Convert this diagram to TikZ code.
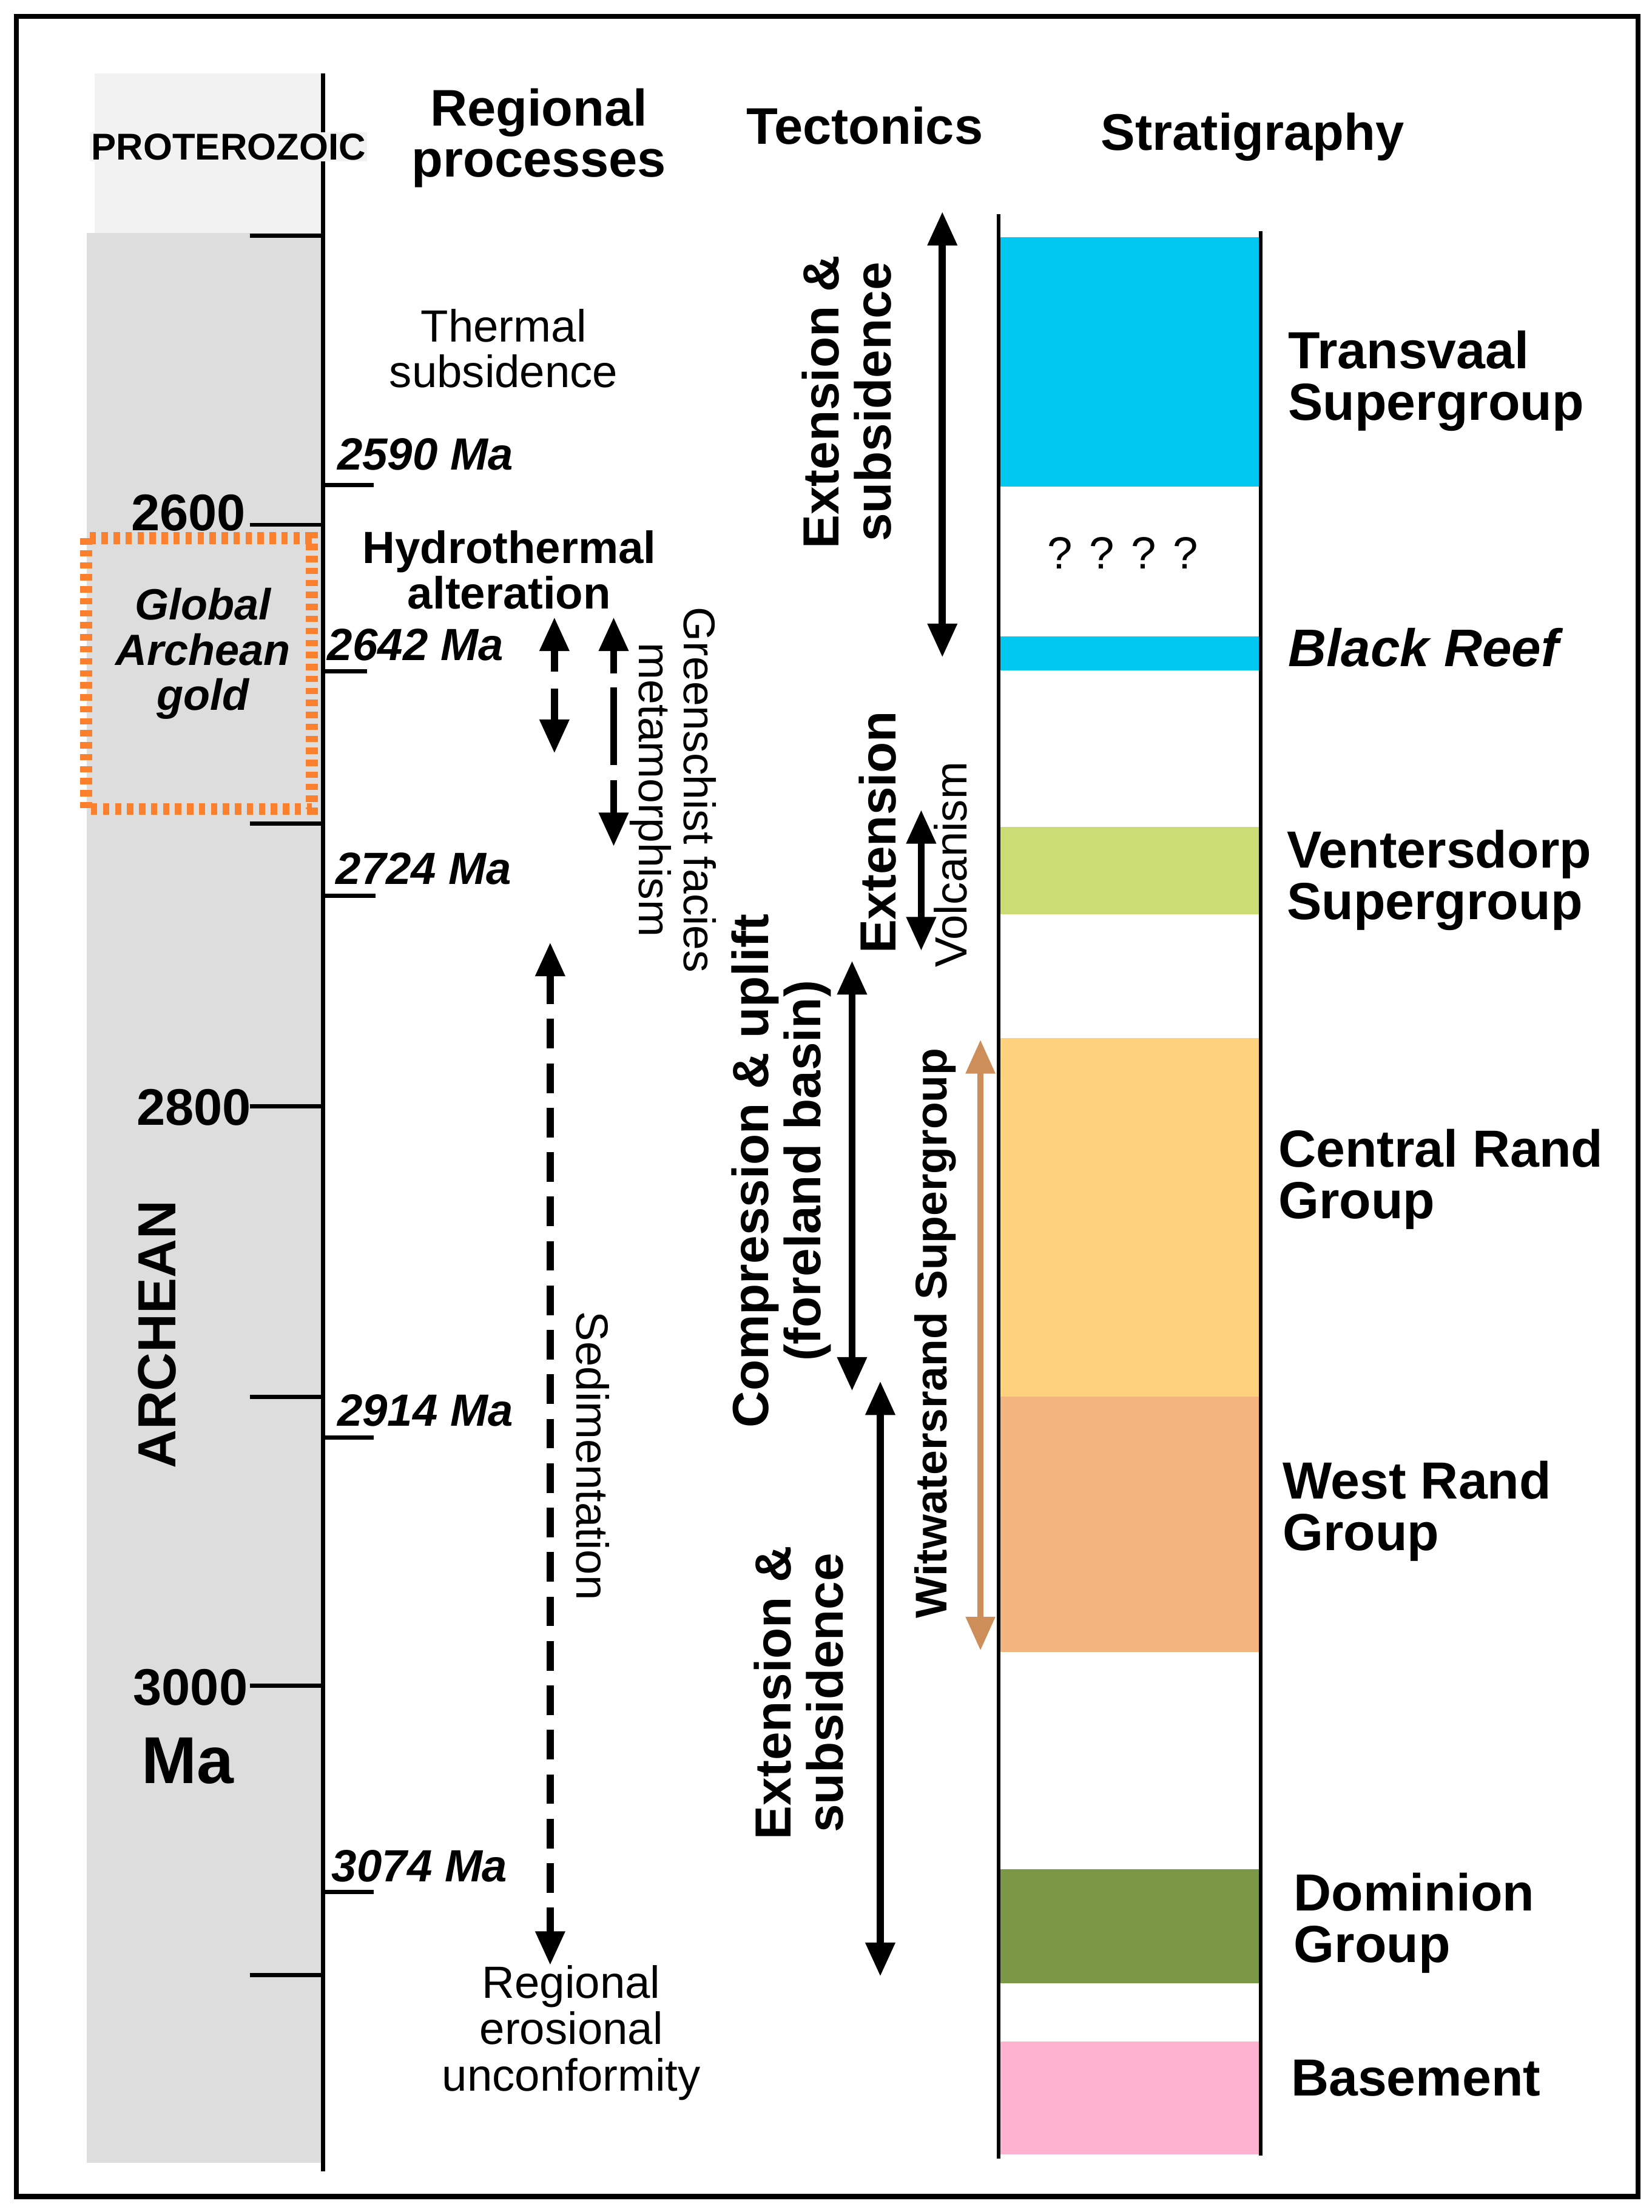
\documentclass[tikz,border=0pt]{standalone}
\usepackage{fontspec}
\setmainfont{Liberation Sans}
\usetikzlibrary{arrows.meta}
\definecolor{progray}{RGB}{242,242,242}
\definecolor{archgray}{RGB}{221,221,221}
\definecolor{goldorange}{RGB}{250,128,45}
\definecolor{transcyan}{RGB}{0,200,240}
\definecolor{ventgreen}{RGB}{204,220,116}
\definecolor{centralyel}{RGB}{254,210,124}
\definecolor{westorange}{RGB}{243,181,125}
\definecolor{domgreen}{RGB}{122,152,70}
\definecolor{basepink}{RGB}{255,178,208}
\definecolor{witstan}{RGB}{205,142,90}
\newcommand{\fsz}[2]{\fontsize{#1}{#2}\selectfont}
\tikzstyle{hdr}=[font=\fsz{36.5}{36}\bfseries, align=center, inner sep=0pt]
\tikzstyle{proc}=[font=\fsz{32}{32}, align=center, inner sep=0pt]
\tikzstyle{procb}=[font=\fsz{32}{32}\bfseries, align=center, inner sep=0pt]
\tikzstyle{agelbl}=[font=\fsz{32}{32}\bfseries\itshape, anchor=west, inner sep=0pt]
\tikzstyle{eralbl}=[font=\fsz{36.5}{36}\bfseries, inner sep=0pt]
\tikzstyle{unitlbl}=[font=\fsz{37}{36.5}\bfseries, align=left, anchor=west, inner sep=0pt]
\tikzstyle{tecto}=[font=\fsz{36}{37}\bfseries, align=center, rotate=90, inner sep=0pt]
\tikzstyle{spanarrow}=[line width=5pt, {Triangle[width=20pt,length=24pt]}-{Triangle[width=20pt,length=24pt]}]
\tikzstyle{tickmark}=[line width=3pt]

\begin{document}
\begin{tikzpicture}[x=1pt, y=-1pt]
  \useasboundingbox (0,0) rectangle (1171,1568);
  \fill[progray] (67,52) rectangle (228,165);
  \fill[archgray] (61.5,165) rectangle (228,1533);
  \draw[goldorange, line width=8.5pt, dash pattern=on 4.5pt off 4pt] (61,381.5) rectangle (221,573.5);
  \draw[line width=2.8pt] (229,52) -- (229,1539);
  \foreach \ty in {167,372,584,784,990,1195,1400}
    \draw[tickmark] (177,\ty) -- (229,\ty);
  \foreach \ty/\tx in {344/265,476/260,635/266,1019/265,1341/265}
    \draw[tickmark] (229,\ty) -- (\tx,\ty);

  \node[eralbl, fill=progray, inner sep=1pt, font=\fsz{26.5}{27}\bfseries] (protero) at (162,104) {PROTEROZOIC};
  \node[eralbl] (a2600) at (133.5,363.5) {2600};
  \node[eralbl] (a2800) at (137.5,785) {2800};
  \node[eralbl] (a3000) at (135,1196) {3000};
  \node[eralbl, font=\fsz{47}{47}\bfseries] (ma) at (133,1248) {Ma};
  \node[eralbl, font=\fsz{38}{38}\bfseries, rotate=90] (archean) at (111.5,946) {ARCHEAN};
  \node[font=\fsz{31}{32}\bfseries\itshape, align=center, inner sep=0pt] (gold) at (144,463.5) {Global\\Archean\\gold};

  \node[agelbl] (m2590) at (239,322) {2590 Ma};
  \node[agelbl] (m2642) at (232,457) {2642 Ma};
  \node[agelbl] (m2724) at (238,616) {2724 Ma};
  \node[agelbl] (m2914) at (239,1000) {2914 Ma};
  \node[agelbl] (m3074) at (235,1323) {3074 Ma};

  \node[hdr] (reghdr) at (382,98) {Regional\\processes};
  \node[hdr] (tecthdr) at (613,89) {Tectonics};
  \node[hdr] (strathdr) at (888,97) {Stratigraphy};

  \node[proc] (thermal) at (357,247) {Thermal\\subsidence};
  \node[procb] (hydro) at (361,404) {Hydrothermal\\alteration};
  \node[proc, font=\fsz{31.5}{32}, rotate=-90] (green) at (477,560) {Greenschist facies\\metamorphism};
  \node[proc, rotate=-90] (sedi) at (420,1032) {Sedimentation};
  \node[proc, font=\fsz{32}{33}] (unconf) at (405,1441) {Regional\\erosional\\unconformity};

  \node[tecto] (extsub1) at (600,285) {Extension \&\\subsidence};
  \node[tecto] (ext2) at (622,590) {Extension};
  \node[proc, rotate=90] (volc) at (674,613) {Volcanism};
  \node[tecto] (compr) at (554,830) {Compression \& uplift\\(foreland basin)};
  \node[tecto] (extsub2) at (566,1200) {Extension \&\\subsidence};
  \node[font=\fsz{31.5}{31}\bfseries, rotate=90, inner sep=0pt] (wits) at (663,945) {Witwatersrand Supergroup};

  \coordinate (hydTop) at (393,437.5);
  \coordinate (hydBot) at (393,534);
  \coordinate (grnTop) at (435,437.5);
  \coordinate (grnBot) at (435,600);
  \coordinate (sedTop) at (390,668);
  \coordinate (sedBot) at (390,1393);
  \coordinate (es1Top) at (668,150);
  \coordinate (es1Bot) at (668,466);
  \coordinate (vocTop) at (653,574);
  \coordinate (vocBot) at (653,674);
  \coordinate (cmpTop) at (604,681);
  \coordinate (cmpBot) at (604,986);
  \coordinate (es2Top) at (624,979);
  \coordinate (es2Bot) at (624,1401);
  \coordinate (witTop) at (695,737);
  \coordinate (witBot) at (695,1170);

  \draw[spanarrow, dash pattern=on 16pt off 12pt on 80pt off 0pt] (hydTop) -- (hydBot);
  \draw[spanarrow, dash pattern=on 17pt off 10pt on 55pt off 11pt on 80pt off 0pt] (grnTop) -- (grnBot);
  \draw[spanarrow, dash pattern=on 21pt off 10.5pt] (sedTop) -- (sedBot);
  \draw[spanarrow] (es1Top) -- (es1Bot);
  \draw[spanarrow] (vocTop) -- (vocBot);
  \draw[spanarrow] (cmpTop) -- (cmpBot);
  \draw[spanarrow] (es2Top) -- (es2Bot);
  \draw[spanarrow, witstan, line width=4.5pt] (witTop) -- (witBot);

  \foreach \ytop/\ybot/\col in {168/345/transcyan, 451/475/transcyan, 586/648/ventgreen, 736/990/centralyel, 990/1171/westorange, 1325/1406/domgreen, 1447/1527/basepink}
    \fill[\col] (708,\ytop) rectangle (893.5,\ybot);
  \draw[line width=2.5pt] (708,152) -- (708,1530);
  \draw[line width=2.5pt] (893.5,164) -- (893.5,1528);
  \node[proc] (qmarks) at (796,392) {? ? ? ?};

  \node[unitlbl] (transvaal) at (913,270) {Transvaal\\Supergroup};
  \node[unitlbl, font=\fsz{37.5}{37}\bfseries\itshape] (blackreef) at (913,459) {Black Reef};
  \node[unitlbl] (venters) at (912,624) {Ventersdorp\\Supergroup};
  \node[unitlbl] (central) at (906,836) {Central Rand\\Group};
  \node[unitlbl] (westrand) at (909,1071) {West Rand\\Group};
  \node[unitlbl] (dominion) at (917,1363) {Dominion\\Group};
  \node[unitlbl] (basement) at (915,1473) {Basement};

  \draw[line width=3.5pt] (11.5,11.5) rectangle (1161,1557);
\end{tikzpicture}
\end{document}
